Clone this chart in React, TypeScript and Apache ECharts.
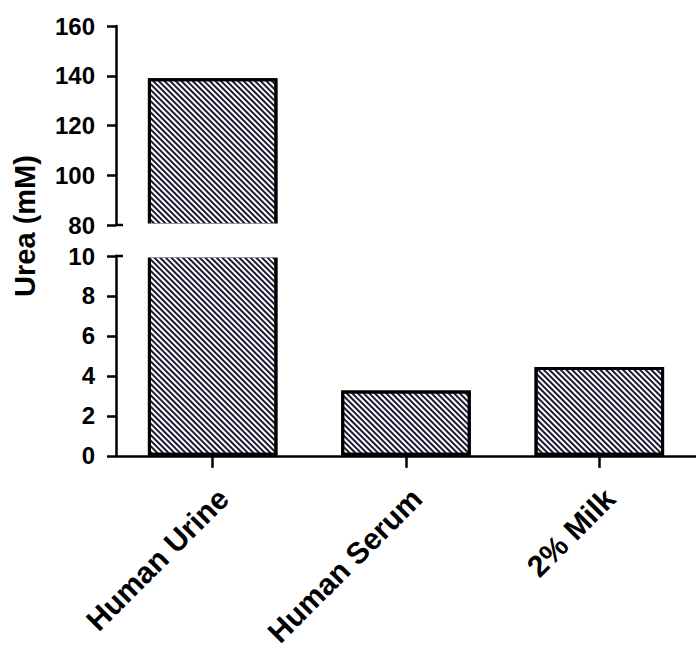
import React, { useEffect, useRef } from "react";
import * as echarts from "echarts";

const categories = ["Human Urine", "Human Serum", "2% Milk"];
const ureaValues = [139, 3.27, 4.45];
const upperRange = { min: 80, max: 160, interval: 20 };
const lowerRange = { min: 0, max: 10, interval: 2 };
const yAxisTitle = "Urea (mM)";

const LEFT = 116;
const WIDTH = 585;
const TOP1 = 26;
const H1 = 199;
const TOP2 = 256;
const H2 = 202;
const FONT = "'Liberation Sans', Arial, sans-serif";

export default function App() {
  const ref = useRef<HTMLDivElement>(null);
  useEffect(() => {
    if (!ref.current) return;
    const chart = echarts.init(ref.current, null, { renderer: "svg" });
    const decal = {
      symbol: "rect",
      symbolSize: 1,
      dashArrayX: [1, 0],
      dashArrayY: [1.1, 1.5],
      rotation: Math.PI / 4,
      color: "#1a1a35",
    };
    const itemStyle = {
      color: "#ffffff",
      borderColor: "#000000",
      borderWidth: 3,
      decal,
    };
    const axisLine = { show: true, lineStyle: { color: "#000", width: 2.5 } };
    const axisTick = { show: true, length: 9, lineStyle: { color: "#000", width: 2.5 } };
    const axisLabel = {
      color: "#000",
      fontFamily: FONT,
      fontWeight: "bold",
      fontSize: 24,
      margin: 21,
    };
    const gapTop = TOP1 + H1;
    chart.setOption({
      animation: false,
      backgroundColor: "#ffffff",
      grid: [
        { left: LEFT, top: TOP1, width: WIDTH, height: H1 },
        { left: LEFT, top: TOP2, width: WIDTH, height: H2 },
      ],
      xAxis: [
        { type: "category", gridIndex: 0, data: categories, show: false },
        {
          type: "category",
          gridIndex: 1,
          data: categories,
          axisLine,
          axisTick: { show: true, alignWithLabel: true, length: 12, lineStyle: { color: "#000", width: 2.5 } },
          axisLabel: {
            color: "#000",
            fontFamily: FONT,
            fontWeight: "bold",
            fontSize: 30,
            rotate: 45,
            margin: 27,
            verticalAlign: "top",
            interval: 0,
          },
          splitLine: { show: false },
        },
      ],
      yAxis: [
        {
          type: "value",
          gridIndex: 0,
          min: upperRange.min,
          max: upperRange.max,
          interval: upperRange.interval,
          axisLine,
          axisTick,
          axisLabel,
          splitLine: { show: false },
        },
        {
          type: "value",
          gridIndex: 1,
          min: lowerRange.min,
          max: lowerRange.max,
          interval: lowerRange.interval,
          axisLine,
          axisTick,
          axisLabel,
          splitLine: { show: false },
        },
      ],
      series: [
        {
          type: "bar",
          xAxisIndex: 0,
          yAxisIndex: 0,
          data: ureaValues.map((v) => (v > upperRange.min ? v : "-")),
          barWidth: "67%",
          itemStyle,
          clip: true,
          z: 2,
        },
        {
          type: "bar",
          xAxisIndex: 1,
          yAxisIndex: 1,
          data: ureaValues,
          barWidth: "67%",
          itemStyle,
          clip: true,
          z: 2,
        },
      ],
      graphic: [
        {
          type: "rect",
          z: 50,
          shape: { x: LEFT + 2, y: gapTop - 1.6, width: WIDTH, height: TOP2 - gapTop + 3.2 },
          style: { fill: "#ffffff" },
        },
        {
          type: "line",
          z: 60,
          shape: { x1: LEFT - 1, y1: gapTop, x2: LEFT + 7, y2: gapTop },
          style: { stroke: "#000", lineWidth: 2.5 },
        },
        {
          type: "line",
          z: 60,
          shape: { x1: LEFT - 1, y1: TOP2, x2: LEFT + 7, y2: TOP2 },
          style: { stroke: "#000", lineWidth: 2.5 },
        },
        {
          type: "text",
          z: 60,
          x: 25,
          y: 226,
          rotation: Math.PI / 2,
          style: {
            text: yAxisTitle,
            fill: "#000",
            font: `bold 29px ${FONT}`,
            align: "center",
            verticalAlign: "middle",
          },
        },
      ],
    });
    return () => chart.dispose();
  }, []);
  return <div ref={ref} style={{ width: 696, height: 650, position: "absolute", left: 0, top: 0 }} />;
}
